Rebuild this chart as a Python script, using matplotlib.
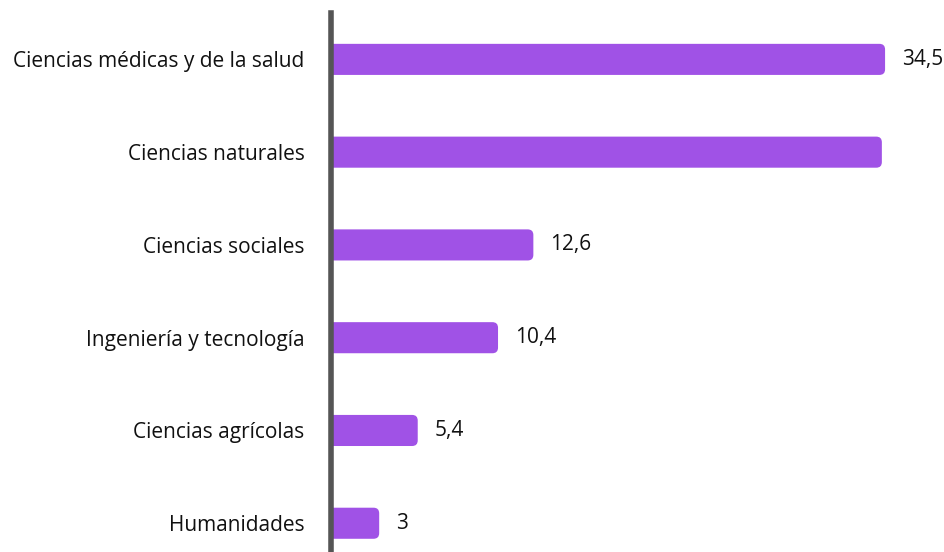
import matplotlib.pyplot as plt
from matplotlib.patches import FancyBboxPatch

categories = ["Ciencias médicas y de la salud", "Ciencias naturales", "Ciencias sociales",
              "Ingeniería y tecnología", "Ciencias agrícolas", "Humanidades"]
values = [34.5, 34.3, 12.6, 10.4, 5.4, 3]
value_labels = ["34,5", "", "12,6", "10,4", "5,4", "3"]

plt.rcParams['font.family'] = ['Open Sans', 'DejaVu Sans']

fig = plt.figure(figsize=(9.45, 5.52), dpi=100)
ax = fig.add_axes([331 / 945, 0, 1 - 331 / 945, 1 - 13 / 552])
ax.set_xlim(0, (945 - 331) / 16.06)
ax.set_ylim(5.31, -0.5)

# aspect to keep corners round in pixels
px_x = (945 - 331) / ax.get_xlim()[1]
px_y = (552 - 13) / 5.81
r = 0.35
bar_h = 0.335
for i, (v, lab) in enumerate(zip(values, value_labels)):
    box = FancyBboxPatch((-1, i - bar_h / 2), v + 1, bar_h,
                         boxstyle=f"round,pad=0,rounding_size={r}",
                         mutation_aspect=px_x / px_y,
                         fc="#a052e6", ec="none", clip_on=True)
    ax.add_patch(box)
    if lab:
        ax.text(v + 1.05, i, lab, va="center", ha="left", fontsize=15, color="#111111")

ax.set_yticks(range(len(categories)))
ax.set_yticklabels(categories, fontsize=15, color="#111111")
ax.tick_params(axis="y", length=0, pad=19)
ax.set_xticks([])
for s in ["top", "right", "bottom"]:
    ax.spines[s].set_visible(False)
ax.spines["left"].set_color("#555555")
ax.spines["left"].set_linewidth(4)
ax.spines["left"].set_zorder(5)

fig.savefig("out.png", dpi=100)
